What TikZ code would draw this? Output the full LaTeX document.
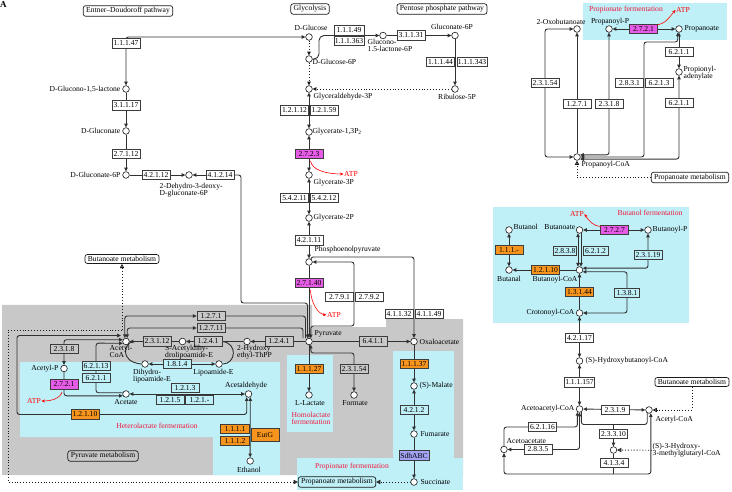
\documentclass[tikz,border=0pt]{standalone}
\usepackage{fontspec}
\setmainfont{Liberation Serif}
\usepackage{tikz}
\usetikzlibrary{arrows.meta,positioning}
\definecolor{ink}{HTML}{1A1A1A}
\definecolor{mapgray}{HTML}{C8C8C8}
\definecolor{mapcyan}{HTML}{BFEFF7}
\definecolor{ecmagenta}{HTML}{E65CE6}
\definecolor{ecorange}{HTML}{F7941D}
\definecolor{eclilac}{HTML}{A3A3F5}
\definecolor{fermred}{HTML}{F0183C}
\newcommand{\kfont}{\fontsize{7.6}{7}\selectfont}
\pgfdeclarelayer{regions}
\pgfdeclarelayer{wires}
\pgfsetlayers{regions,wires,main}
\tikzset{
  cpd/.style={circle,draw=ink,fill=white,line width=0.6pt,
              minimum size=6.6pt,inner sep=0pt},
  txt/.style={font=\kfont,inner sep=0.5pt,align=center},
  ec/.style={draw=ink!85,fill=#1,line width=0.55pt,minimum width=28pt,
             minimum height=9.5pt,inner xsep=0.8pt,inner ysep=1pt,font=\kfont},
  ec/.default=white,
  mapbox/.style={draw=ink,fill=#1,rounded corners=2.5pt,line width=0.7pt,
                 inner xsep=3pt,inner ysep=1.8pt,font=\kfont},
  mapbox/.default=white,
  rxn/.style={draw=ink!90,line width=0.9pt,rounded corners=2.5pt},
  link/.style={draw=ink,line width=0.9pt,dotted},
  linkopen/.style={link,-{Triangle[open,length=4.2pt,width=4.2pt]}},
  atparr/.style={draw=red,line width=0.6pt,-{Stealth[length=3.5pt,width=3pt]}}
}
\begin{document}
\begin{tikzpicture}[x=1pt,y=-1pt,>={Triangle[length=3.8pt,width=3.4pt]}]
  \path[use as bounding box] (0,0) rectangle (732,492);
  \begin{pgfonlayer}{regions}
    \fill[mapgray] (2,305) -- (312,305) -- (312,327) -- (386,327) -- (386,319)
      -- (463,319) -- (463,475) -- (2,475) -- cycle;
    \fill[mapcyan] (20,362) -- (280,362) -- (280,475) -- (213,475) -- (213,437)
      -- (20,437) -- cycle;
    \fill[mapcyan] (287,355) rectangle (333,432);
    \fill[mapcyan] (393,351) rectangle (454,460);
    \fill[mapcyan] (297,458) rectangle (463,490);
    \fill[mapcyan] (583,3) rectangle (727,40);
    \fill[mapcyan] (493,207) rectangle (689,323);
  \end{pgfonlayer}

  \node[font=\bfseries\fontsize{9}{9}\selectfont] (tagA) at (3.5,4.5) {A};
  \node[mapbox] (edpath) at (128,11) {Entner--Doudoroff pathway};
  \node[mapbox] (glypath) at (310,9) {Glycolysis};
  \node[mapbox] (ppppath) at (442,9) {Pentose phosphate pathway};

  % Entner-Doudoroff
  \node[ec] (e11147) at (126,43.5) {1.1.1.47};
  \node[cpd] (glcnl) at (126,89) {};
  \node[txt,anchor=east] (glcnlL) at (121,89) {D-Glucono-1,5-lactone};
  \node[ec] (e31117) at (126,105.5) {3.1.1.17};
  \node[cpd] (glcn) at (126,131) {};
  \node[txt,anchor=east] (glcnL) at (121,131) {D-Gluconate};
  \node[ec] (e27112) at (126,154) {2.7.1.12};
  \node[cpd] (glcn6p) at (126,175) {};
  \node[txt,anchor=east] (glcn6pL) at (121,175) {D-Gluconate-6P};
  \node[ec] (e42112) at (156,175) {4.2.1.12};
  \node[cpd] (kdpg) at (189,175) {};
  \node[txt,anchor=north west,align=left] (kdpgL) at (159,183)
    {2-Dehydro-3-deoxy-\\D-gluconate-6P};
  \node[ec] (e41214) at (220,175) {4.1.2.14};

  % glycolysis and pentose phosphate
  \node[cpd] (glc) at (309,37) {};
  \node[txt] (glcL) at (311,28) {D-Glucose};
  \node[cpd] (g6p) at (309,59) {};
  \node[txt,anchor=west] (g6pL) at (312,62) {D-Glucose-6P};
  \node[ec,minimum width=30pt] (e11149) at (349,30.3) {1.1.1.49};
  \node[ec,minimum width=30pt] (e111363) at (349,40.7) {1.1.1.363};
  \node[cpd] (gl6p) at (383,35.5) {};
  \node[txt,anchor=north west,align=left] (gl6pL) at (367,38.5)
    {Glucono-\\1.5-lactone-6P};
  \node[ec] (e31131) at (411,35.5) {3.1.1.31};
  \node[cpd] (gn6p) at (455,35.5) {};
  \node[txt] (gn6pL) at (452,27) {Gluconate-6P};
  \node[ec] (e11144) at (440.5,62) {1.1.1.44};
  \node[ec] (e111343) at (472,62) {1.1.1.343};
  \node[cpd] (ru5p) at (455,89) {};
  \node[txt] (ru5pL) at (457,97) {Ribulose-5P};
  \node[cpd] (gap) at (309,89) {};
  \node[txt,anchor=west] (gapL) at (313,97) {Glyceraldehyde-3P};
  \node[ec] (e12112) at (294.5,110.5) {1.2.1.12};
  \node[ec] (e12159) at (324,110.5) {1.2.1.59};
  \node[cpd] (bpg) at (309,132) {};
  \node[txt,anchor=west] (bpgL) at (312,132) {Glycerate-1,3P\textsubscript{2}};
  \node[ec=ecmagenta] (e2723) at (309,154) {2.7.2.3};
  \coordinate (atp1s) at (310.5,161);
  \node[txt,text=red] (atp1) at (351,174) {ATP};
  \node[cpd] (pg3) at (309,175) {};
  \node[txt,anchor=west] (pg3L) at (313,183) {Glycerate-3P};
  \node[ec] (e54211) at (294.5,198) {5.4.2.11};
  \node[ec] (e54212) at (324,198) {5.4.2.12};
  \node[cpd] (pg2) at (309,218) {};
  \node[txt,anchor=west] (pg2L) at (313,218) {Glycerate-2P};
  \node[ec] (e42111) at (309,240.5) {4.2.1.11};
  \node[cpd] (pep) at (309,262) {};
  \node[txt,anchor=west] (pepL) at (314,250) {Phosphoenolpyruvate};
  \node[ec=ecmagenta] (e27140) at (309,283) {2.7.1.40};
  \coordinate (atp2s) at (310.5,290);
  \node[txt,text=red] (atp2) at (334,315) {ATP};
  \node[ec] (e2791) at (339.5,297) {2.7.9.1};
  \node[ec] (e2792) at (369,297) {2.7.9.2};
  \node[ec] (e41132) at (399,314) {4.1.1.32};
  \node[ec] (e41149) at (429,314) {4.1.1.49};

  % pyruvate metabolism
  \node[cpd] (pyr) at (309,341.5) {};
  \node[txt,anchor=west] (pyrL) at (314,333.5) {Pyruvate};
  \coordinate (pyrA) at (303,338);
  \coordinate (pyrB) at (305.5,338);
  \coordinate (pyrC) at (307.5,338.3);
  \node[ec=mapgray] (e6411) at (373,341.5) {6.4.1.1};
  \node[cpd] (oaa) at (414,341.5) {};
  \node[txt,anchor=west] (oaaL) at (419,342) {Oxaloacetate};
  \node[ec=mapgray] (e1241b) at (279,341.5) {1.2.4.1};
  \node[cpd] (hethpp) at (247,341.5) {};
  \node[txt,anchor=north west,align=left] (hethppL) at (236.5,345)
    {2-Hydroxy\\ethyl-ThPP};
  \node[ec=mapgray] (e1241a) at (208,341.5) {1.2.4.1};
  \node[cpd] (sacdl) at (182.5,341.5) {};
  \node[txt,anchor=north west,align=left] (sacdlL) at (164.5,345)
    {S-Acetyldihy-\\drolipoamide-E};
  \node[ec=mapgray] (e23112) at (157,341.5) {2.3.1.12};
  \node[cpd] (acoa) at (126,341.5) {};
  \node[txt,anchor=north west,align=left] (acoaL) at (109,345) {Acetyl-\\CoA};
  \coordinate (acoaup) at (122,330);
  \coordinate (acoaleft) at (121,335.5);
  \node[ec=mapgray] (e1271) at (211,316) {1.2.7.1};
  \node[ec=mapgray] (e12711) at (211,328) {1.2.7.11};
  \node[mapbox] (butmetA) at (122,259) {Butanoate metabolism};
  \node[cpd] (dhlipo) at (145,364) {};
  \node[txt,anchor=north west,align=left] (dhlipoL) at (132.5,368.5)
    {Dihydro-\\lipoamide-E};
  \node[ec=mapcyan] (e1814) at (177,364) {1.8.1.4};
  \node[cpd] (lipo) at (219,364) {};
  \node[txt] (lipoL) at (213.5,373) {Lipoamide-E};

  \node[ec=mapgray] (e2318a) at (64,349) {2.3.1.8};
  \node[cpd] (acp) at (64,368.5) {};
  \node[txt,anchor=east] (acpL) at (59,368.5) {Acetyl-P};
  \node[ec=ecmagenta] (e2721a) at (64,384.5) {2.7.2.1};
  \coordinate (atp3s) at (62,392);
  \node[txt,text=red] (atp3) at (34,401) {ATP};
  \node[ec=mapcyan] (e62113) at (96,366) {6.2.1.13};
  \node[ec=mapcyan] (e6211a) at (96,378) {6.2.1.1};
  \node[cpd] (acet) at (126,394) {};
  \node[txt] (acetL) at (126,402.5) {Acetate};
  \node[ec=mapcyan] (e1213) at (185,388) {1.2.1.3};
  \node[ec=mapcyan] (e1215) at (170,400) {1.2.1.5};
  \node[ec=mapcyan] (e121x) at (199.5,400) {1.2.1.-};
  \node[cpd] (acald) at (248.5,394) {};
  \node[txt] (acaldL) at (246,386) {Acetaldehyde};
  \node[ec=ecorange] (e12110a) at (85,414.5) {1.2.1.10};
  \node[ec=ecorange,minimum width=29pt] (e1111) at (235,429) {1.1.1.1};
  \node[ec=ecorange,minimum width=29pt] (e1112) at (235,441) {1.1.1.2};
  \node[ec=ecorange,minimum height=13pt] (eeutg) at (265,435) {EutG};
  \node[cpd] (etoh) at (250.15,461) {};
  \node[txt] (etohL) at (249,470) {Ethanol};
  \node[txt,text=fermred] (heteroL) at (157,426) {Heterolactate fermentation};
  \node[mapbox=mapgray] (pyrmet) at (103,456) {Pyruvate metabolism};

  \node[ec=ecorange] (e11127) at (309,369) {1.1.1.27};
  \node[cpd] (lac) at (309,395) {};
  \node[txt] (lacL) at (310,403.5) {L-Lactate};
  \node[txt,text=fermred] (homoL) at (311,418) {Homolactate\\fermentation};
  \node[ec=mapgray] (e23154a) at (354,369) {2.3.1.54};
  \coordinate (formT) at (354,353);
  \node[cpd] (form) at (354,395) {};
  \node[txt] (formL) at (355,403) {Formate};

  \node[ec=ecorange] (e111137) at (414,364) {1.1.1.37};
  \node[cpd] (mal) at (414,386) {};
  \node[txt,anchor=west] (malL) at (419,386) {(S)-Malate};
  \node[ec=mapcyan] (e4212) at (414,410) {4.2.1.2};
  \node[cpd] (fum) at (414,434) {};
  \node[txt,anchor=west] (fumL) at (420,434) {Fumarate};
  \node[ec=eclilac,minimum width=30pt,minimum height=10.5pt] (esdh) at (414,455.5) {SdhABC};
  \node[cpd] (succ) at (414,482) {};
  \node[txt,anchor=west] (succL) at (420,482) {Succinate};
  \node[txt,text=fermred] (propfermA) at (352,467) {Propionate fermentation};
  \node[mapbox=mapcyan] (propmetA) at (337,482) {Propanoate metabolism};

  % propanoate panel
  \node[txt,text=fermred] (propfermB) at (626,10) {Propionate fermentation};
  \node[cpd] (oxobut) at (577,29) {};
  \node[txt] (oxobutL) at (561,22) {2-Oxobutanoate};
  \node[cpd] (propp) at (609,29) {};
  \node[txt] (proppL) at (610,22) {Propanoyl-P};
  \node[ec=ecmagenta] (e2721b) at (643.5,29) {2.7.2.1};
  \coordinate (atp4s) at (657,25);
  \node[txt,text=red] (atp4) at (683,10) {ATP};
  \node[cpd] (propa) at (679,29) {};
  \node[txt,anchor=west] (propaL) at (684,29) {Propanoate};
  \node[ec] (e6211b) at (679,52) {6.2.1.1};
  \node[cpd] (propad) at (679,72) {};
  \node[txt,anchor=west,align=left] (propadL) at (683,73.5) {Propionyl-\\adenylate};
  \node[ec] (e6211c) at (679,103) {6.2.1.1};
  \node[ec] (e23154b) at (545,83) {2.3.1.54};
  \node[ec] (e1271b) at (577,104) {1.2.7.1};
  \node[ec] (e2318b) at (609,104) {2.3.1.8};
  \node[ec] (e2831) at (629.5,83) {2.8.3.1};
  \node[ec] (e6213) at (659,83) {6.2.1.3};
  \node[cpd] (propcoa) at (577,157) {};
  \node[txt,anchor=west] (propcoaL) at (581,165) {Propanoyl-CoA};
  \node[mapbox] (propmetB) at (690,177.5) {Propanoate metabolism};

  % butanol panel
  \node[txt,text=fermred] (butfermL) at (650,213) {Butanol fermentation};
  \node[cpd] (butol) at (509,230) {};
  \node[txt,anchor=west] (butolL) at (513,227) {Butanol};
  \node[cpd] (butoate) at (579.5,230) {};
  \node[txt,anchor=east] (butoateL) at (576,227) {Butanoate};
  \node[ec=ecmagenta] (e2727) at (614.5,230) {2.7.2.7};
  \coordinate (atp5s) at (601,226.5);
  \node[txt,text=red] (atp5) at (577,214) {ATP};
  \node[cpd] (butp) at (648,230) {};
  \node[txt,anchor=west] (butpL) at (652,230) {Butanoyl-P};
  \node[ec=mapcyan,minimum width=23pt] (e2838) at (565,251) {2.8.3.8};
  \node[ec=mapcyan,minimum width=25pt] (e6212) at (595.5,251) {6.2.1.2};
  \node[ec=mapcyan] (e23119) at (648,255) {2.3.1.19};
  \node[cpd] (butcoa) at (579.5,270) {};
  \node[txt] (butcoaL) at (555,280) {Butanoyl-CoA};
  \node[ec=ecorange] (e12110b) at (545.5,270) {1.2.1.10};
  \node[cpd] (butal) at (509,270) {};
  \node[txt] (butalL) at (509,279) {Butanal};
  \node[ec=ecorange] (e111x) at (509,250) {1.1.1.-};
  \node[ec=ecorange] (e13144) at (579.5,292) {1.3.1.44};
  \node[ec=mapcyan,minimum width=25pt] (e1381) at (627,293) {1.3.8.1};
  \node[cpd] (crot) at (579.5,313) {};
  \node[txt,anchor=east] (crotL) at (575,313) {Crotonoyl-CoA};
  \node[ec] (e42117) at (579.5,338) {4.2.1.17};
  \node[cpd] (hbcoa) at (579.5,361) {};
  \node[txt,anchor=west] (hbcoaL) at (585,361) {(S)-Hydroxybutanoyl-CoA};
  \node[ec] (e111157) at (579.5,382.5) {1.1.1.157};
  \node[cpd] (aacoa) at (579.5,409) {};
  \node[txt,anchor=east] (aacoaL) at (575,409) {Acetoacetyl-CoA};
  \node[ec] (e2319) at (615,410) {2.3.1.9};
  \node[cpd] (acoab) at (649,410) {};
  \node[txt,anchor=west] (acoabL) at (655,419.5) {Acetyl-CoA};
  \node[mapbox] (butmetB) at (692,382) {Butanoate metabolism};
  \node[ec] (e62116) at (542.5,427) {6.2.1.16};
  \node[ec] (e2835) at (538,449.5) {2.8.3.5};
  \node[cpd] (aacet) at (504,449.5) {};
  \node[txt,anchor=west] (aacetL) at (506,441) {Acetoacetate};
  \coordinate (hmgj) at (613.5,424.5);
  \node[ec] (e23310) at (613.5,434) {2.3.3.10};
  \node[cpd] (hmg) at (613.5,450) {};
  \node[txt,anchor=west,align=left] (hmgL) at (652,450.5)
    {(S)-3-Hydroxy-\\3-methylglutaryl-CoA};
  \node[ec] (e4134) at (614,463) {4.1.3.4};
  \coordinate (hmgb) at (613.5,474);

  \begin{pgfonlayer}{wires}
    \draw[rxn,<->] (glc) -| (glcnl);
    \draw[rxn,->] (glcnl) -- (glcn);
    \draw[rxn,->] (glcn) -- (glcn6p);
    \draw[rxn,->] (glcn6p) -- (kdpg);
    \draw[rxn,->] (e41214) -- (kdpg);
    \draw[rxn,->] (e41214) -| (241,303) -| (pyrC);
    \draw[link,->] (glc) -- (g6p);
    \draw[link,->] (g6p) -- (gap);
    \draw[link,->] (ru5p) -- (gap);
    \draw[rxn,rounded corners=5pt,->] (g6p.east) -- (319,59) -- (319,35.5) -- (gl6p);
    \draw[rxn,->] (gl6p) -- (gn6p);
    \draw[rxn,->] (gn6p) -- (ru5p);
    \draw[rxn,<->] (gap) -- (bpg);
    \draw[rxn,<->] (bpg) -- (pg3);
    \draw[rxn,<->] (pg3) -- (pg2);
    \draw[rxn,<->] (pg2) -- (pep);
    \draw[rxn,->] (pep) -- (pyr);
    \draw[rxn,<->] (pep.60) |- (414,257) -- (oaa);
    \draw[rxn,<->] (pyr.60) |- (354,326) |- (pep.east);
    \draw[rxn,->] (pyr) -- (oaa);
    \draw[rxn,->] (pyr) -- (hethpp);
    \draw[rxn,->] (hethpp) -- (sacdl);
    \draw[rxn,->] (sacdl) -- (acoa);
    \draw[rxn] (e1241a.east) .. controls (238,343) and (236,364) .. (lipo.east);
    \draw[rxn,<->] (lipo) -- (dhlipo);
    \draw[rxn] (e23112.west) -- (136,341.5) .. controls (124,342) and (119,362) .. (dhlipo.west);
    \draw[rxn,<->] (pyrB) |- (e1271) -| (acoa.110);
    \draw[rxn,<->] (pyrA) |- (e12711) -| (acoa.70);
    \draw[rxn,<->] (acoa.150) -| (acp);
    \draw[rxn,->] (acp) |- (acet.210);
    \draw[rxn,<-] (acoa.210) -- (96,343.15) |- (acet.160);
    \draw[rxn,<->] (acet) -- (acald);
    \draw[rxn,<->] (acald.240) |- (17,414.5) |- (acoaleft);
    \draw[rxn,<->] (acald.300) -- (etoh);
    \draw[rxn,->] (pyr) -- (lac);
    \draw[rxn,<->] (pyr.-60) |- (formT) -- (form);
    \draw[rxn,->] (oaa) -- (mal);
    \draw[rxn,<->] (mal) -- (fum);
    \draw[rxn,->] (fum) -- (succ);
    \draw[linkopen] (succ) -- (propmetA);
    \draw[linkopen] (acoaup) -- (butmetA);
    \draw[linkopen] (acoaup) -| (8,482) -- (propmetA);

    \draw[rxn,<->] (propp) -- (propa);
    \draw[rxn,<->] (propa) -- (propad);
    \draw[rxn,<->] (propad) |- (propcoa.-35);
    \draw[rxn,<->] (propa.250) |- (644,42) -- (644,157) -- (propcoa.east);
    \draw[rxn,<->] (propp) |- (propcoa.35);
    \draw[rxn,<->] (oxobut) -| (545,120) |- (propcoa);
    \draw[rxn,->] (propcoa) -- (oxobut);
    \draw[linkopen] (propmetB) -| (propcoa);

    \draw[rxn,<->] (butoate) -- (butp);
    \draw[rxn,<->] (butoate.245) -- (butcoa.115);
    \draw[rxn,->] (butoate.295) -- (butcoa.65);
    \draw[rxn,<->] (butp) |- (butcoa.30);
    \draw[rxn,<->] (crot) -| (627,280) |- (butcoa.-30);
    \draw[rxn,->] (crot) -- (butcoa);
    \draw[rxn,->] (butcoa) -- (butal);
    \draw[rxn,<->] (butal) -- (butol);
    \draw[rxn,<->] (hbcoa) -- (crot);
    \draw[rxn,<->] (aacoa) -- (hbcoa);
    \draw[rxn,<->] (aacoa) -- (acoab);
    \draw[linkopen] (butmetB) |- (acoab);
    \draw[rxn,->] (aacet) |- (e62116) -| (aacoa.235);
    \draw[rxn,<->] (aacoa) |- (aacet);
    \draw[rxn] (aacoa.300) |- (hmgj) -| (acoab.240);
    \draw[rxn,->] (hmgj) -- (hmg);
    \draw[linkopen] (hmgL) -- (hmg);
    \draw[rxn] (hmg) -- (hmgb);
    \draw[rxn,->] (hmgb) -| (aacet);
    \draw[rxn,->] (hmgb) -| (acoab.300);
  \end{pgfonlayer}

  \draw[atparr] (atp1s) .. controls (312,170) and (326,174) .. (atp1.west);
  \draw[atparr] (atp2s) .. controls (311,303) and (318,314) .. (atp2.west);
  \draw[atparr] (atp3s) .. controls (60,399) and (50,401) .. (atp3.east);
  \draw[atparr] (atp4s) .. controls (667,23) and (670,16) .. (atp4.west);
  \draw[atparr] (atp5s) .. controls (593,226) and (589,221) .. (atp5.east);
\end{tikzpicture}
\end{document}
